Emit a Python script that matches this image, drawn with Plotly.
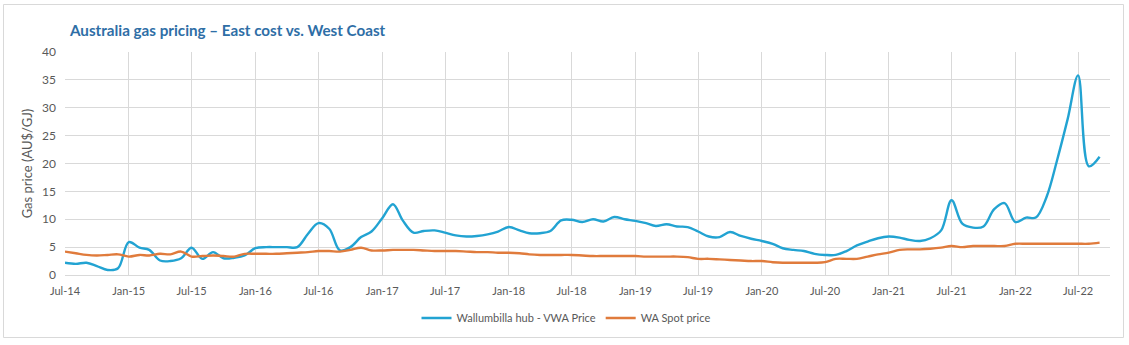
import pandas as pd
import plotly.graph_objects as go

# Monthly observations, Jul-2014 .. Sep-2022
months = pd.date_range("2014-07-01", "2022-09-01", freq="MS")

wallumbilla_vwa = [
    2.2, 2.0, 2.2, 1.6, 0.9, 1.2, 5.9, 4.9, 4.5, 2.6, 2.5, 3.0,
    4.9, 2.9, 4.1, 3.0, 3.1, 3.5, 4.8, 5.0, 5.0, 5.0, 5.0, 7.4,
    9.3, 8.3, 4.4, 5.0, 6.8, 7.8, 10.2, 12.7, 9.8, 7.6, 7.9, 8.0,
    7.6, 7.1, 6.9, 7.0, 7.3, 7.8, 8.6, 8.0, 7.5, 7.5, 7.9, 9.8,
    9.9, 9.5, 10.0, 9.6, 10.4, 10.0, 9.7, 9.3, 8.8, 9.1, 8.7, 8.6,
    7.8, 6.9, 6.8, 7.7, 7.0, 6.5, 6.1, 5.6, 4.8, 4.5, 4.3, 3.8,
    3.6, 3.6, 4.3, 5.3, 6.0, 6.6, 6.9, 6.7, 6.3, 6.1, 6.6, 8.0,
    13.4, 9.2, 8.5, 8.7, 11.8, 12.9, 9.5, 10.3, 10.3, 14.0, 20.5, 28.0,
    35.8, 19.5, 21.2,
]

wa_spot = [
    4.2, 3.9, 3.6, 3.5, 3.6, 3.7, 3.3, 3.6, 3.5, 3.8, 3.7, 4.2,
    3.3, 3.4, 3.5, 3.4, 3.3, 3.8, 3.8, 3.8, 3.8, 3.9, 4.0, 4.1,
    4.3, 4.3, 4.2, 4.5, 4.9, 4.4, 4.4, 4.5, 4.5, 4.5, 4.4, 4.3,
    4.3, 4.3, 4.2, 4.1, 4.1, 4.0, 4.0, 3.9, 3.7, 3.6, 3.6, 3.6,
    3.6, 3.5, 3.4, 3.4, 3.4, 3.4, 3.4, 3.3, 3.3, 3.3, 3.3, 3.2,
    2.9, 2.9, 2.8, 2.7, 2.6, 2.5, 2.5, 2.3, 2.2, 2.2, 2.2, 2.2,
    2.3, 2.9, 2.9, 2.9, 3.3, 3.7, 4.0, 4.5, 4.6, 4.6, 4.7, 4.9,
    5.2, 5.0, 5.2, 5.2, 5.2, 5.2, 5.6, 5.6, 5.6, 5.6, 5.6, 5.6,
    5.6, 5.6, 5.8,
]

series_names = ["Wallumbilla hub - VWA Price", "WA Spot price"]
y_ticks = [0, 5, 10, 15, 20, 25, 30, 35, 40]

BLUE = "#22A3D2"
ORANGE = "#E07B3C"
GRID = "#D9D9D9"
TEXT = "#595959"
FONT = "Lato"

fig = go.Figure()
fig.add_trace(go.Scatter(
    x=months, y=wallumbilla_vwa, name=series_names[0], mode="lines",
    line=dict(color=BLUE, width=2.4, shape="spline", smoothing=1.0),
))
fig.add_trace(go.Scatter(
    x=months, y=wa_spot, name=series_names[1], mode="lines",
    line=dict(color=ORANGE, width=2.4, shape="spline", smoothing=1.0),
))

W, H = 1129, 345
ML, MR, MT, MB = 65, 19, 52, 70
pw, ph = W - ML - MR, H - MT - MB


def px_x(v):
    return (v - ML) / pw


def px_y(v):
    return (H - MB - v) / ph


# light frame around the whole chart
fig.add_shape(type="rect", xref="paper", yref="paper",
              x0=px_x(3.5), x1=px_x(1123.5), y0=px_y(337.5), y1=px_y(4.5),
              line=dict(color="#D9D9D9", width=1), fillcolor="rgba(0,0,0,0)",
              layer="below")

fig.update_layout(
    width=W, height=H,
    margin=dict(l=ML, r=MR, t=MT, b=MB),
    paper_bgcolor="white", plot_bgcolor="white",
    font=dict(family=FONT, size=11, color=TEXT),
    title=dict(
        text="<b>Australia gas pricing – East cost vs. West Coast</b>",
        font=dict(family=FONT, size=15.2, color="#2E6EA6"),
        x=px_x(70), xref="paper", xanchor="left",
        y=1 - 31 / H, yref="container", yanchor="middle",
    ),
    legend=dict(
        orientation="h", x=px_x(566), xanchor="center",
        y=px_y(318), yanchor="middle",
        font=dict(family=FONT, size=11, color=TEXT),
        itemwidth=30, tracegroupgap=0,
    ),
    showlegend=True,
)

fig.update_xaxes(
    type="date",
    range=["2014-07-01", "2022-10-01"],
    tick0="2014-07-01", dtick="M6", tickformat="%b-%y",
    showgrid=True, gridcolor=GRID, gridwidth=1,
    showline=True, linecolor=GRID, linewidth=1,
    ticks="", ticklabelstandoff=6,
    tickfont=dict(family=FONT, size=11, color=TEXT),
    zeroline=False,
)
fig.update_yaxes(
    range=[0, 40], tickvals=y_ticks,
    showgrid=True, gridcolor=GRID, gridwidth=1,
    showline=False, zeroline=False,
    ticks="", ticklabelstandoff=8,
    tickfont=dict(family=FONT, size=12, color=TEXT),
    title=dict(text="Gas price (AU$/GJ)", font=dict(family=FONT, size=13, color=TEXT), standoff=6),
)

fig.write_html("out.html")
